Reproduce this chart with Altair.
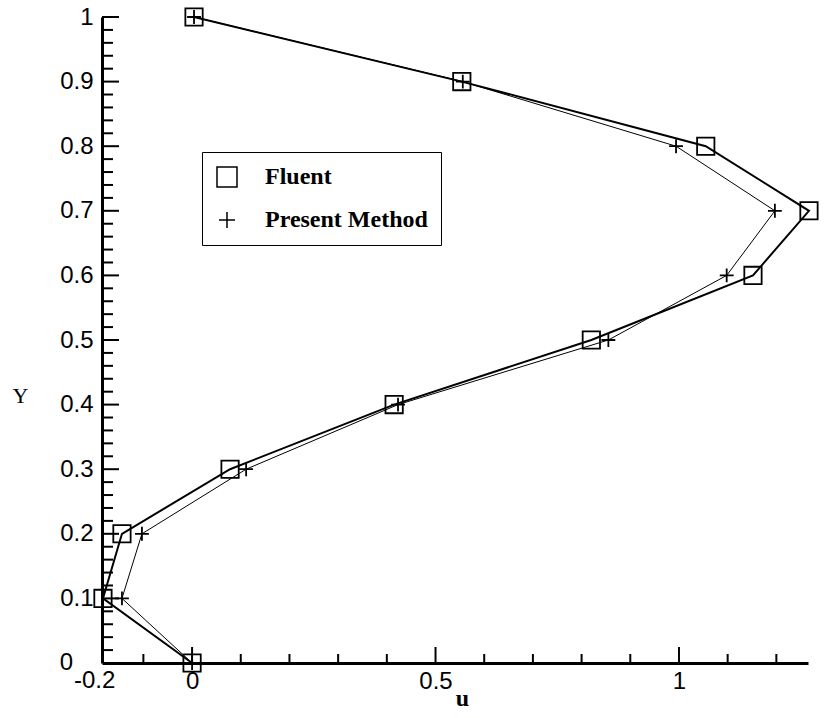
import altair as alt
import pandas as pd

# ---- data ----
y_vals = [0.0, 0.1, 0.2, 0.3, 0.4, 0.5, 0.6, 0.7, 0.8, 0.9, 1.0]
fluent_u = [0.0, -0.183, -0.144, 0.078, 0.415, 0.82, 1.152, 1.267, 1.055, 0.554, 0.004]
present_u = [0.0, -0.144, -0.103, 0.111, 0.423, 0.855, 1.098, 1.197, 0.994, 0.556, 0.004]
series_names = ["Fluent", "Present Method"]

x_label_vals = [0, 0.5, 1]
x_extra_label = [-0.2]
x_major_ticks = [0, 0.5, 1]
x_minor_ticks = [-0.1, 0.1, 0.2, 0.3, 0.4, 0.6, 0.7, 0.8, 0.9, 1.1, 1.2]
y_label_vals = [0.1, 0.2, 0.3, 0.4, 0.5, 0.6, 0.7, 0.8, 0.9, 1.0]
y_extra_label = [0]
y_major_ticks = [0.1, 0.2, 0.3, 0.4, 0.5, 0.6, 0.7, 0.8, 0.9, 1.0]
y_minor_ticks = [round(i * 0.02, 2) for i in range(1, 50) if i % 5 != 0]

W, H = 706, 646
XDOM = [-0.185, 1.265]
YDOM = [0, 1]

rows = []
for name, us in zip(series_names, [fluent_u, present_u]):
    for u, y in zip(us, y_vals):
        rows.append({"series": name, "u": u, "y": y})
df = pd.DataFrame(rows)

xs = alt.Scale(domain=XDOM, nice=False, zero=False)
ys = alt.Scale(domain=YDOM, nice=False, zero=False)

x_axis = alt.Axis(
    values=x_label_vals, format="~g", ticks=False, tickSize=0, grid=False,
    domainColor="black", domainWidth=3,
    labelFont="Liberation Sans", labelFontSize=24, labelColor="black",
    labelPadding=6, labelFlush=False,
    title="u", titleFont="Liberation Serif", titleFontSize=24, titleFontWeight="bold",
    titleColor="black", titleX=360, titleY=35, titleAlign="center", titleBaseline="middle",
)
y_axis = alt.Axis(
    values=y_label_vals, format="~g", ticks=False, tickSize=0, grid=False,
    domainColor="black", domainWidth=3,
    labelFont="Liberation Sans", labelFontSize=24, labelColor="black",
    labelPadding=9,
    title="Y", titleFont="Liberation Serif", titleFontSize=22, titleFontWeight="normal",
    titleColor="black", titleAngle=0, titleX=-82, titleY=378, titleAlign="center",
    titleBaseline="middle",
)

line_f = alt.Chart(df).transform_filter(alt.datum.series == series_names[0]).mark_line(
    color="black", strokeWidth=2
).encode(
    x=alt.X("u:Q", scale=xs, axis=x_axis),
    y=alt.Y("y:Q", scale=ys, axis=y_axis),
    order=alt.Order("y:Q"),
)
line_p = alt.Chart(df).transform_filter(alt.datum.series == series_names[1]).mark_line(
    color="black", strokeWidth=1
).encode(
    x=alt.X("u:Q", scale=xs),
    y=alt.Y("y:Q", scale=ys),
    order=alt.Order("y:Q"),
)

points = alt.Chart(df).mark_point(
    filled=False, color="black", strokeWidth=1.8, size=300, opacity=1
).encode(
    x=alt.X("u:Q", scale=xs),
    y=alt.Y("y:Q", scale=ys),
    shape=alt.Shape(
        "series:N",
        scale=alt.Scale(domain=series_names, range=["square", "M-0.8,0L0.8,0M0,-0.8L0,0.8"]),
        legend=alt.Legend(orient="none", legendX=100, legendY=135, title=None),
    ),
)

def xticks(vals, length):
    return alt.Chart(pd.DataFrame({"v": vals})).mark_rule(color="black", strokeWidth=2).encode(
        x=alt.X("v:Q", scale=xs),
        y=alt.value(H), y2=alt.value(H - length),
    )

def yticks(vals, length):
    return alt.Chart(pd.DataFrame({"v": vals})).mark_rule(color="black", strokeWidth=2).encode(
        y=alt.Y("v:Q", scale=ys),
        x=alt.value(0), x2=alt.value(length),
    )

extra_xlabel = alt.Chart(pd.DataFrame({"v": x_extra_label, "t": ["-0.2"]})).mark_text(
    font="Liberation Sans", fontSize=24, color="black", baseline="top", align="center", dy=6
).encode(
    x=alt.X("v:Q", scale=xs),
    y=alt.value(H),
    text="t:N",
)

extra_ylabel = alt.Chart(pd.DataFrame({"v": y_extra_label, "t": ["0"]})).mark_text(
    font="Liberation Sans", fontSize=24, color="black", baseline="middle", align="right", dx=-29
).encode(
    y=alt.Y("v:Q", scale=ys),
    x=alt.value(0),
    text="t:N",
)

chart = alt.layer(
    line_f, line_p, points,
    xticks(x_minor_ticks, 9), xticks(x_major_ticks, 16),
    yticks(y_minor_ticks, 11), yticks(y_major_ticks, 17),
    extra_xlabel, extra_ylabel,
).properties(
    width=W, height=H,
    autosize=alt.AutoSizeParams(type="none"),
    padding={"left": 102, "top": 17, "right": 23, "bottom": 55},
    background="white",
).configure_view(stroke=None).configure_legend(
    strokeColor="black", fillColor="white", padding=13, rowPadding=18,
    labelFont="Liberation Serif", labelFontSize=24, labelFontWeight="bold",
    labelColor="black", labelOffset=26, symbolStrokeColor="black",
    symbolStrokeWidth=1.5, symbolSize=400, symbolOpacity=1, labelLimit=400,
)

chart.save("out.html", embed_options={"renderer": "svg", "actions": False})
